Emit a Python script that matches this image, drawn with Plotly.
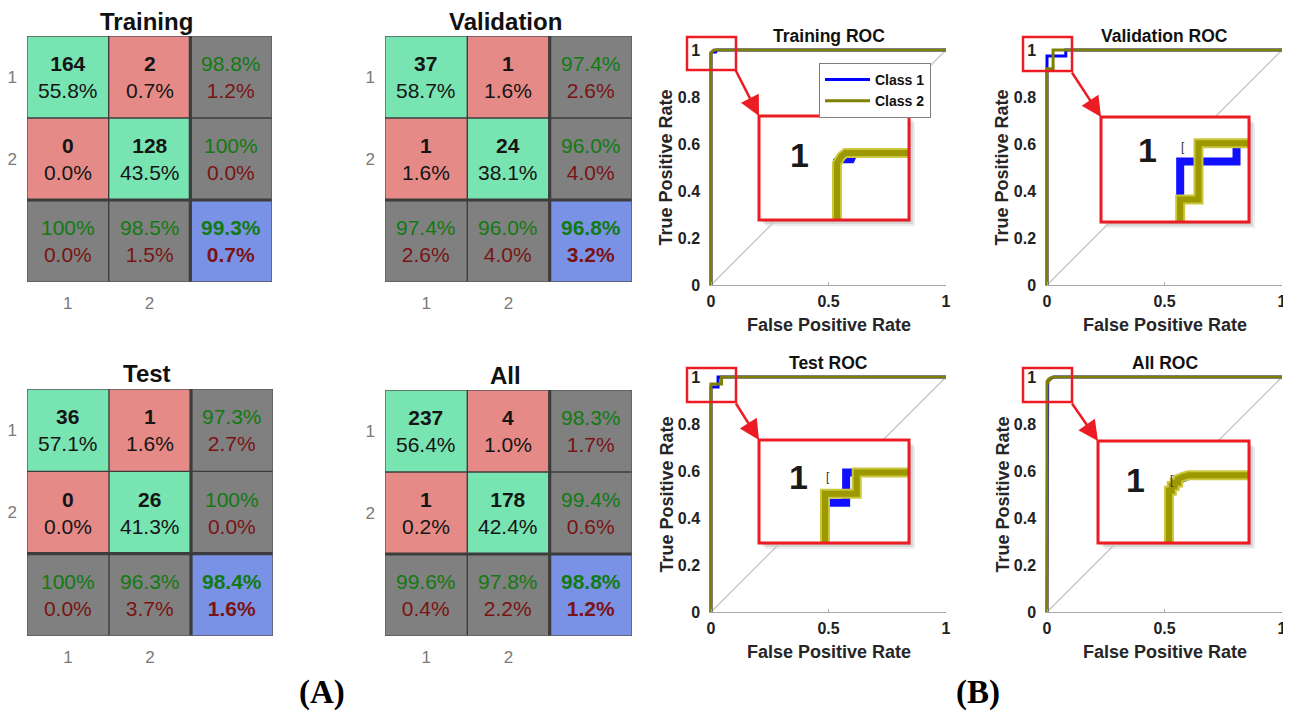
import plotly.graph_objects as go

# page is rendered with an 8px body margin: figure is placed at (8, 8) in the 1291x711 window
OFF = 8
FW, FH = 1291 - OFF, 711 - OFF
FONT = "Liberation Sans"
SERIF = "Liberation Serif"

# ---------------- data: confusion matrices ----------------
cm_titles = ["Training", "Validation", "Test", "All"]
class_labels = ["1", "2"]

train_counts = [[164, 2], [0, 128]]
train_pct = [[55.8, 0.7], [0.0, 43.5]]
train_row_acc = [98.8, 100.0]
train_col_acc = [100.0, 98.5]
train_overall = 99.3

val_counts = [[37, 1], [1, 24]]
val_pct = [[58.7, 1.6], [1.6, 38.1]]
val_row_acc = [97.4, 96.0]
val_col_acc = [97.4, 96.0]
val_overall = 96.8

test_counts = [[36, 1], [0, 26]]
test_pct = [[57.1, 1.6], [0.0, 41.3]]
test_row_acc = [97.3, 100.0]
test_col_acc = [100.0, 96.3]
test_overall = 98.4

all_counts = [[237, 4], [1, 178]]
all_pct = [[56.4, 1.0], [0.2, 42.4]]
all_row_acc = [98.3, 99.4]
all_col_acc = [99.6, 97.8]
all_overall = 98.8

# ---------------- data: ROC curves ----------------
roc_titles = ["Training ROC", "Validation ROC", "Test ROC", "All ROC"]
class_names = ["Class 1", "Class 2"]
chance_line = [0, 1]

train_c1_fpr = [0, 0, 0.004, 0.02, 0.024, 1]
train_c1_tpr = [0, 0.988, 0.991, 0.991, 1, 1]
train_c2_fpr = [0, 0, 0.006, 0.012, 1]
train_c2_tpr = [0, 0.985, 0.995, 1, 1]

val_c1_fpr = [0, 0, 0.08, 0.08, 1]
val_c1_tpr = [0, 0.974, 0.974, 1, 1]
val_c2_fpr = [0, 0, 0.026, 0.026, 1]
val_c2_tpr = [0, 0.92, 0.92, 1, 1]

test_c1_fpr = [0, 0, 0.03, 0.03, 1]
test_c1_tpr = [0, 0.957, 0.957, 1, 1]
test_c2_fpr = [0, 0, 0.045, 0.045, 1]
test_c2_tpr = [0, 0.97, 0.97, 1, 1]

all_c1_fpr = [0, 0, 0.003, 0.006, 0.012, 0.02, 0.03, 1]
all_c1_tpr = [0, 0.972, 0.98, 0.986, 0.992, 0.996, 1, 1]
all_c2_fpr = [0, 0, 0.004, 0.004, 0.008, 0.008, 0.013, 0.013, 0.02, 0.028, 1]
all_c2_tpr = [0, 0.978, 0.978, 0.985, 0.985, 0.99, 0.99, 0.995, 0.998, 1, 1]

roc_x_ticks = [0, 0.5, 1]
roc_x_ticktext = ["0", "0.5", "1"]
roc_y_ticks = [0, 0.2, 0.4, 0.6, 0.8, 1]
roc_y_ticktext = ["0", "0.2", "0.4", "0.6", "0.8", "1"]
panel_labels = ["(A)", "(B)"]

# ---------------- assemble ----------------
cms = [
    (train_counts, train_pct, train_row_acc, train_col_acc, train_overall),
    (val_counts, val_pct, val_row_acc, val_col_acc, val_overall),
    (test_counts, test_pct, test_row_acc, test_col_acc, test_overall),
    (all_counts, all_pct, all_row_acc, all_col_acc, all_overall),
]
rocs = [
    (train_c1_fpr, train_c1_tpr, train_c2_fpr, train_c2_tpr),
    (val_c1_fpr, val_c1_tpr, val_c2_fpr, val_c2_tpr),
    (test_c1_fpr, test_c1_tpr, test_c2_fpr, test_c2_tpr),
    (all_c1_fpr, all_c1_tpr, all_c2_fpr, all_c2_tpr),
]

# layout positions in window pixels (left, right, top, bottom)
cm_boxes = [(27, 272, 36, 282), (385, 632, 36, 282), (27, 273, 389, 636), (385, 632, 390, 636)]
roc_boxes = [(711, 946, 50, 285), (1047, 1282, 50, 285), (711, 946, 377, 612), (1047, 1282, 377, 612)]
inset_boxes = [(759, 909, 116, 220), (1101, 1249, 117, 222), (759, 909, 440, 543), (1098, 1249, 441, 543)]
zoom_boxes = [(687, 736, 37, 70), (1023, 1072, 37, 71), (687, 736, 368, 402), (1023, 1072, 368, 402)]
arrow_tails = [(735, 69), (1071, 71), (735, 402), (1071, 402)]
inset_anchor = [(0.52, 0.355), (0.535, 0.25), (0.44, 0.316), (0.47, 0.337)]
inset_one_pos = [(-0.053, 0.997), (-0.047, 0.991), (-0.038, 0.994), (-0.047, 0.993)]
SCALE = 0.00142

GREEN_CELL, RED_CELL, GRAY_CELL, BLUE_CELL = "#78e4b2", "#e68a87", "#808080", "#7a92e6"
TXT_G, TXT_R = "#127a12", "#7a1414"


def px(p):
    return (p - OFF) / FW


def py(p):
    return 1 - (p - OFF) / FH


def fmt(p):
    p = round(p, 1)
    if abs(p - 100) < 1e-9:
        return "100%"
    return f"{p:.1f}%"


def xa(n):
    return "xaxis" if n == 1 else f"xaxis{n}"


def ya(n):
    return "yaxis" if n == 1 else f"yaxis{n}"


def xr(n):
    return "x" if n == 1 else f"x{n}"


def yr(n):
    return "y" if n == 1 else f"y{n}"


def note(**kw):
    d = dict(showarrow=False, xanchor="center", yanchor="middle")
    d.update(kw)
    return d


fig = go.Figure()
layout = {}
annotations = []
shapes = []

colorscale = [[0, GREEN_CELL], [0.1667, GREEN_CELL], [0.1667, RED_CELL], [0.5, RED_CELL],
              [0.5, GRAY_CELL], [0.8333, GRAY_CELL], [0.8333, BLUE_CELL], [1, BLUE_CELL]]

# ---------- confusion matrices ----------
for k in range(4):
    n = k + 1
    counts, pct, racc, cacc, overall = cms[k]
    codes = []
    for i in range(3):
        row = []
        for j in range(3):
            if i < 2 and j < 2:
                row.append(0 if i == j else 1)
            elif i == 2 and j == 2:
                row.append(3)
            else:
                row.append(2)
        codes.append(row)
    fig.add_trace(go.Heatmap(z=codes, x=[1, 2, 3], y=[1, 2, 3], zmin=0, zmax=3,
                             colorscale=colorscale, showscale=False, hoverinfo="skip",
                             xaxis=xr(n), yaxis=yr(n)))
    l, r, t, b = cm_boxes[k]
    tickfont = dict(family=FONT, size=17, color="#7a7a7a")
    layout[xa(n)] = dict(domain=[px(l), px(r)], range=[0.5, 3.5], anchor=yr(n),
                         tickvals=[1, 2], ticktext=class_labels, showgrid=False, zeroline=False,
                         showline=False, ticks="", tickfont=tickfont, ticklabelstandoff=9,
                         fixedrange=True)
    layout[ya(n)] = dict(domain=[py(b), py(t)], range=[3.5, 0.5], anchor=xr(n),
                         tickvals=[1, 2], ticktext=class_labels, showgrid=False, zeroline=False,
                         showline=False, ticks="", tickfont=tickfont, ticklabelstandoff=9,
                         fixedrange=True)
    for v in [0.5, 1.5, 2.5, 3.5]:
        w = 3.2 if v == 2.5 else 1.4
        c = "#3c3c3c" if v in (1.5, 2.5) else "#5a5a5a"
        shapes.append(dict(type="line", xref=xr(n), yref=yr(n), x0=v, x1=v, y0=0.5, y1=3.5,
                           line=dict(color=c, width=w), layer="above"))
        shapes.append(dict(type="line", xref=xr(n), yref=yr(n), x0=0.5, x1=3.5, y0=v, y1=v,
                           line=dict(color=c, width=w), layer="above"))
    for i in range(2):
        for j in range(2):
            annotations.append(note(xref=xr(n), yref=yr(n), x=j + 1, y=i + 1,
                                    text=f"<b>{counts[i][j]}</b><br>{fmt(pct[i][j])}",
                                    font=dict(family=FONT, size=21, color="#151515")))
    for i in range(2):
        annotations.append(note(xref=xr(n), yref=yr(n), x=3, y=i + 1,
                                text=f"<span style='color:{TXT_G}'>{fmt(racc[i])}</span><br>"
                                     f"<span style='color:{TXT_R}'>{fmt(100 - racc[i])}</span>",
                                font=dict(family=FONT, size=21)))
        annotations.append(note(xref=xr(n), yref=yr(n), x=i + 1, y=3,
                                text=f"<span style='color:{TXT_G}'>{fmt(cacc[i])}</span><br>"
                                     f"<span style='color:{TXT_R}'>{fmt(100 - cacc[i])}</span>",
                                font=dict(family=FONT, size=21)))
    annotations.append(note(xref=xr(n), yref=yr(n), x=3, y=3,
                            text=f"<b><span style='color:{TXT_G}'>{fmt(overall)}</span><br>"
                                 f"<span style='color:{TXT_R}'>{fmt(100 - overall)}</span></b>",
                            font=dict(family=FONT, size=21)))
    annotations.append(note(xref="paper", yref="paper", x=px((l + r) / 2 - 3), y=py(t - 15),
                            text=f"<b>{cm_titles[k]}</b>",
                            font=dict(family=FONT, size=24, color="#111")))

# ---------- ROC main ----------
pad = 0.008
tickfont_roc = dict(family=FONT, size=16, color="#222", weight="bold")
for k in range(4):
    n = 5 + k
    c1x, c1y, c2x, c2y = rocs[k]
    fig.add_trace(go.Scatter(x=chance_line, y=chance_line, mode="lines",
                             line=dict(color="#c8c8c8", width=1.5), showlegend=False,
                             hoverinfo="skip", xaxis=xr(n), yaxis=yr(n)))
    fig.add_trace(go.Scatter(x=c1x, y=c1y, mode="lines", name=class_names[0],
                             line=dict(color="#0000ff", width=3), showlegend=(k == 0),
                             xaxis=xr(n), yaxis=yr(n)))
    fig.add_trace(go.Scatter(x=c2x, y=c2y, mode="lines", name=class_names[1],
                             line=dict(color="#808000", width=3), showlegend=(k == 0),
                             xaxis=xr(n), yaxis=yr(n)))
    l, r, t, b = roc_boxes[k]
    layout[xa(n)] = dict(domain=[px(l - pad * (r - l)), px(r)], range=[-pad, 1], anchor=yr(n),
                         tickvals=roc_x_ticks, ticktext=roc_x_ticktext, showgrid=False,
                         zeroline=False, showline=True, linecolor="#a8a8a8", linewidth=1,
                         ticks="inside", ticklen=3, tickcolor="#a8a8a8", tickfont=tickfont_roc,
                         ticklabelstandoff=2, fixedrange=True)
    layout[ya(n)] = dict(domain=[py(b), py(t - pad * (b - t))], range=[0, 1 + pad],
                         anchor=xr(n), tickvals=roc_y_ticks, ticktext=roc_y_ticktext,
                         showgrid=False, zeroline=False, showline=False, ticks="",
                         tickfont=tickfont_roc, ticklabelstandoff=8, fixedrange=True)
    cx = (l + r) / 2
    annotations.append(note(xref="paper", yref="paper", x=px(cx), y=py(t - 14),
                            text=f"<b>{roc_titles[k]}</b>",
                            font=dict(family=FONT, size=17.5, color="#111")))
    annotations.append(note(xref="paper", yref="paper", x=px(cx), y=py(b + 40),
                            text="<b>False Positive Rate</b>",
                            font=dict(family=FONT, size=18, color="#262626")))
    annotations.append(note(xref="paper", yref="paper", x=px(l - 45), y=py((t + b) / 2),
                            textangle=-90, text="<b>True Positive Rate</b>",
                            font=dict(family=FONT, size=18, color="#262626")))

# ---------- ROC insets ----------
for k in range(4):
    n = 9 + k
    c1x, c1y, c2x, c2y = rocs[k]
    l, r, t, b = inset_boxes[k]
    wpx, hpx = r - l, b - t
    g0, f1 = inset_anchor[k]
    xrange_ = [-g0 * wpx * SCALE, (1 - g0) * wpx * SCALE]
    yrange_ = [1 - (1 - f1) * hpx * SCALE, 1 + f1 * hpx * SCALE]
    fig.add_trace(go.Scatter(x=c1x, y=c1y, mode="lines", line=dict(color="#1010ff", width=8),
                             showlegend=False, hoverinfo="skip", xaxis=xr(n), yaxis=yr(n)))
    fig.add_trace(go.Scatter(x=c2x, y=c2y, mode="lines", line=dict(color="#cbc63c", width=10),
                             showlegend=False, hoverinfo="skip", xaxis=xr(n), yaxis=yr(n)))
    fig.add_trace(go.Scatter(x=c2x, y=c2y, mode="lines", line=dict(color="#9c9800", width=6),
                             showlegend=False, hoverinfo="skip", xaxis=xr(n), yaxis=yr(n)))
    layout[xa(n)] = dict(domain=[px(l), px(r)], range=xrange_, anchor=yr(n), showgrid=False,
                         zeroline=False, showline=False, ticks="", showticklabels=False,
                         fixedrange=True)
    layout[ya(n)] = dict(domain=[py(b), py(t)], range=yrange_, anchor=xr(n),
                         showgrid=False, zeroline=False, showline=False, ticks="",
                         showticklabels=False, fixedrange=True)
    ox, oy = inset_one_pos[k]
    annotations.append(note(xref=xr(n), yref=yr(n), x=ox, y=oy, text="<b>1</b>",
                            font=dict(family=FONT, size=34, color="#1a1a1a")))
    if k > 0:
        annotations.append(note(xref=xr(n), yref=yr(n), x=0.004, y=0.994, text="[",
                                font=dict(family=FONT, size=12, color="#333")))
    for o, a in [(2, 0.10), (4, 0.09), (6, 0.07)]:
        shapes.append(dict(type="rect", xref="paper", yref="paper", x0=px(l + o), x1=px(r + o),
                           y0=py(b + o), y1=py(t + o), fillcolor=f"rgba(0,0,0,{a})",
                           line=dict(width=0), layer="below"))
    shapes.append(dict(type="rect", xref="paper", yref="paper", x0=px(l), x1=px(r),
                       y0=py(b), y1=py(t), line=dict(color="#ec1c24", width=3),
                       layer="above"))
    zl, zr, zt, zb = zoom_boxes[k]
    shapes.append(dict(type="rect", xref="paper", yref="paper", x0=px(zl), x1=px(zr),
                       y0=py(zb), y1=py(zt), line=dict(color="#ec1c24", width=2.5),
                       layer="above"))
    tx, ty = arrow_tails[k]
    annotations.append(dict(xref="paper", yref="paper", x=px(l), y=py(t), text="",
                            showarrow=True, axref="pixel", ayref="pixel", ax=tx - l, ay=ty - t,
                            arrowhead=2, arrowsize=1.6, arrowwidth=2.5, arrowcolor="#ec1c24",
                            standoff=0))

annotations.append(note(xref="paper", yref="paper", x=px(322), y=py(692),
                        text=f"<b>{panel_labels[0]}</b>", font=dict(family=SERIF, size=33, color="#000")))
annotations.append(note(xref="paper", yref="paper", x=px(978), y=py(692),
                        text=f"<b>{panel_labels[1]}</b>", font=dict(family=SERIF, size=33, color="#000")))

fig.update_layout(template="none")
fig.update_layout(
    width=FW, height=FH, margin=dict(l=0, r=0, t=0, b=0),
    paper_bgcolor="white", plot_bgcolor="white",
    showlegend=True,
    legend=dict(x=px(819), y=py(63), xanchor="left", yanchor="top", bgcolor="white",
                bordercolor="#7f7f7f", borderwidth=1, itemwidth=45,
                font=dict(family=FONT, size=14, color="#111", weight="bold"),
                tracegroupgap=0),
    annotations=annotations, shapes=shapes,
    **layout,
)

fig.write_html("out.html")
